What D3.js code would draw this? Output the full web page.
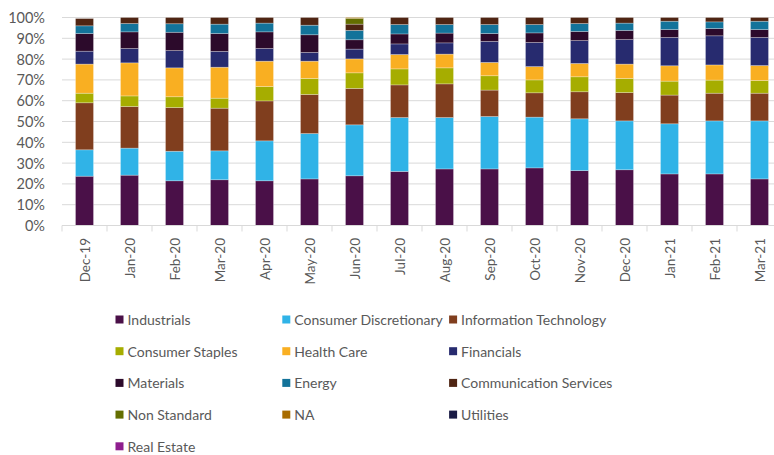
<!DOCTYPE html>
<html><head><meta charset="utf-8">
<script src="https://cdn.jsdelivr.net/npm/d3@7"></script>
<style>body{margin:0;background:#fff}svg{display:block}text{font-family:Lato,"Open Sans",sans-serif;fill:#595959}</style>
</head><body><svg id="c" width="774" height="455"></svg>
<script>
const months = ["Dec-19","Jan-20","Feb-20","Mar-20","Apr-20","May-20","Jun-20","Jul-20","Aug-20","Sep-20","Oct-20","Nov-20","Dec-20","Jan-21","Feb-21","Mar-21"];
const sectors = ["Industrials","Consumer Discretionary","Information Technology","Consumer Staples","Health Care","Financials","Materials","Energy","Communication Services","Non Standard","NA","Utilities","Real Estate"];
const colors = ["#4a1048","#30b3e7","#803e1e","#a6ad00","#f9af22","#272b6f","#2c0a2b","#13739a","#4f2513","#646e00","#a86c00","#1a1b45","#8e1e8e"];
const industrials   = [23.7,24.2,21.5,22.0,21.5,22.4,23.9,26.0,27.2,27.2,27.7,26.4,26.8,24.8,24.8,22.4];
const consDisc      = [12.7,13.0,14.2,13.9,19.2,21.8,24.5,25.9,24.7,25.2,24.4,24.9,23.5,24.1,25.5,27.9];
const infoTech      = [22.6,20.0,21.0,20.5,19.2,18.8,17.5,15.7,16.2,12.7,11.7,13.0,13.6,13.8,13.3,13.3];
const consStaples   = [4.6,5.1,5.2,4.8,6.9,7.7,7.5,7.7,7.7,6.9,6.2,7.2,6.8,6.7,6.3,6.1];
const healthCare    = [14.0,15.9,13.9,14.9,12.2,8.3,6.7,6.9,6.6,6.4,6.4,6.4,6.9,7.4,7.3,7.2];
const financials    = [6.2,6.9,8.3,7.6,6.1,4.2,4.7,5.1,5.4,10.1,11.6,11.0,11.8,13.6,14.0,13.5];
const materials     = [8.5,8.0,8.8,8.6,8.0,8.5,4.5,4.8,4.7,3.8,4.6,4.4,4.4,3.8,3.5,3.8];
const energy        = [3.7,4.0,4.1,4.5,4.2,4.6,4.5,4.5,4.1,4.3,4.0,3.8,3.5,4.0,3.2,4.0];
const commServices  = [3.5,2.9,3.0,3.2,2.7,3.7,3.0,3.4,3.4,3.4,3.4,2.9,2.7,1.8,2.1,1.8];
const nonStandard   = [0,0,0,0,0,0,2.8,0,0,0,0,0,0,0,0,0];
const na            = [0,0,0,0,0,0,0.4,0,0,0,0,0,0,0,0,0];
const utilities     = [0,0,0,0,0,0,0,0,0,0,0,0,0,0,0,0];
const realEstate    = [0,0,0,0,0,0,0,0,0,0,0,0,0,0,0,0];
const yTicks = [0,10,20,30,40,50,60,70,80,90,100];

const seriesVals = [industrials,consDisc,infoTech,consStaples,healthCare,financials,materials,energy,commServices,nonStandard,na,utilities,realEstate];
const rows = months.map((m,i)=>{const o={month:m};sectors.forEach((s,j)=>o[s]=seriesVals[j][i]);return o;});

const svg = d3.select("#c");
const x = d3.scaleBand().domain(months).range([62,782]).paddingInner(0.6).paddingOuter(0.3);
const y = d3.scaleLinear().domain([0,100]).range([225.5,17.5]);

// gridlines
svg.append("g").selectAll("line").data(yTicks.filter(t=>t>0)).join("line")
  .attr("x1",62).attr("x2",782).attr("y1",d=>y(d)).attr("y2",d=>y(d))
  .attr("stroke","#d9d9d9").attr("stroke-width",1);

// y labels
svg.append("g").selectAll("text").data(yTicks).join("text")
  .attr("x",45).attr("y",d=>y(d)).attr("text-anchor","end").attr("dominant-baseline","central")
  .style("font-size","14.5px").text(d=>d+"%");

// bars
const stack = d3.stack().keys(sectors);
const layers = stack(rows);
svg.append("g").selectAll("g").data(layers).join("g").attr("fill",(d,i)=>colors[i])
  .selectAll("rect").data(d=>d.filter(p=>p[1]-p[0]>0)).join("rect")
  .attr("x",d=>x(d.data.month)).attr("width",x.bandwidth())
  .attr("y",d=>y(d[1])).attr("height",d=>y(d[0])-y(d[1]))
  .attr("stroke","rgba(255,255,255,0.35)").attr("stroke-width",0.75);

// x axis
const xa = svg.append("g");
xa.append("line").attr("x1",62).attr("x2",782).attr("y1",y(0)).attr("y2",y(0)).attr("stroke","#d9d9d9");
xa.selectAll("line.t").data(d3.range(months.length+1)).join("line").attr("class","t")
  .attr("x1",i=>62+i*x.step()).attr("x2",i=>62+i*x.step()).attr("y1",y(0)).attr("y2",y(0)+6).attr("stroke","#d9d9d9");
xa.selectAll("text").data(months).join("text")
  .attr("transform",d=>`translate(${x(d)+x.bandwidth()/2},238) rotate(-90)`)
  .attr("text-anchor","end").attr("dominant-baseline","central")
  .style("font-size","13.5px").text(d=>d);

// legend
const lg = svg.append("g");
sectors.forEach((s,i)=>{
  const col=i%3,row=Math.floor(i/3);
  const gx=115.5+col*166.8, gy=319.5+row*31.7;
  lg.append("rect").attr("x",gx).attr("y",gy-4).attr("width",8).attr("height",8).attr("fill",colors[i]);
  lg.append("text").attr("x",gx+12).attr("y",gy).attr("dominant-baseline","central").style("font-size","14px").text(s);
});
</script></body></html>
